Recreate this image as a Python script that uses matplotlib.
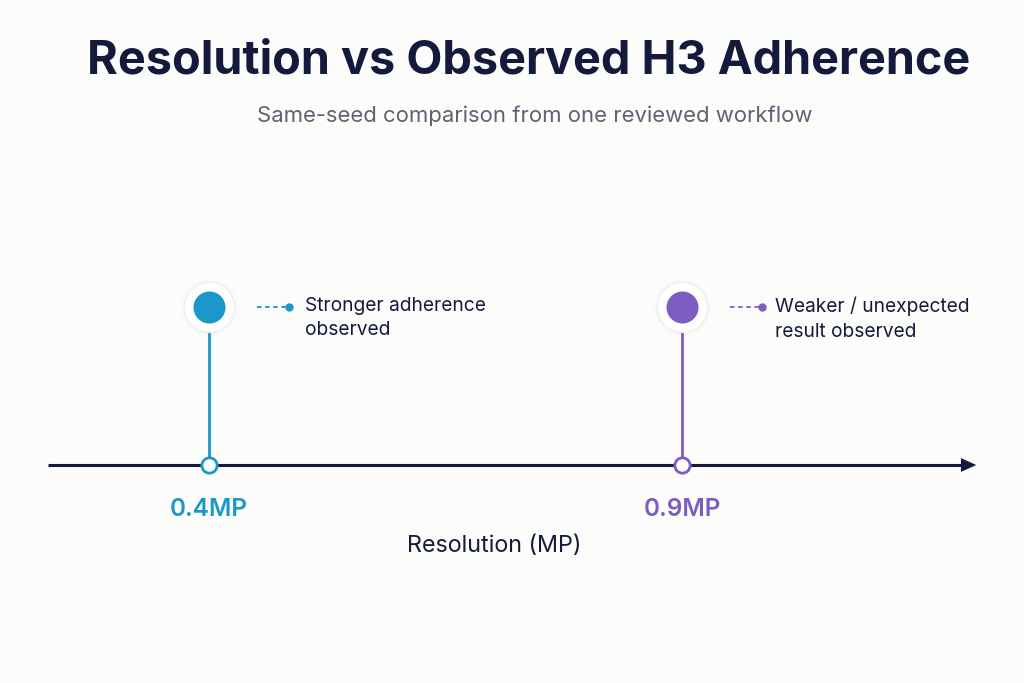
import matplotlib.pyplot as plt

# data
resolutions = [0.4, 0.9]
tick_labels = ["0.4MP", "0.9MP"]
notes = ["Stronger adherence\nobserved", "Weaker / unexpected\nresult observed"]
colors = ["#1b97c9", "#7b5ec0"]

navy = "#141a3c"
bg = "#fcfcfb"
px_per_mp = 946.0  # horizontal scale of the resolution axis

plt.rcParams['font.family'] = ['Inter', 'DejaVu Sans']

fig = plt.figure(figsize=(10.24, 6.83), dpi=100, facecolor=bg)
ax = fig.add_axes([0, 0, 1, 1])
ax.set_facecolor(bg)
# x in MP, y in pixels from top
x0 = resolutions[0] - 209 / px_per_mp
ax.set_xlim(x0, x0 + 1024 / px_per_mp)
ax.set_ylim(683, 0)
ax.axis("off")

def mp(px):
    return x0 + px / px_per_mp

axis_y = 465
top_y = 307

# main axis with arrow
ax.plot([mp(48), mp(966)], [axis_y, axis_y], color=navy, lw=2.2, solid_capstyle="butt", zorder=2)
ax.annotate("", xy=(mp(979), axis_y), xytext=(mp(960), axis_y),
            arrowprops=dict(arrowstyle="-|>,head_length=1.1,head_width=0.5",
                            color=navy, lw=0), zorder=3)

for i, (r, lab, note, c) in enumerate(zip(resolutions, tick_labels, notes, colors)):
    # stem
    ax.plot([r, r], [top_y, axis_y], color=c, lw=2, zorder=3)
    # hollow marker on the axis
    ax.plot(r, axis_y, "o", ms=11, mfc="white", mec=c, mew=2, zorder=5)
    # halo + filled dot at top
    for k, a in [(29, 0.02), (27, 0.03), (25.5, 0.04)]:
        ax.plot(r, top_y, "o", ms=k * 2 * 0.72, mfc="#9aa0b0", mec="none", alpha=a, zorder=3)
    ax.plot(r, top_y, "o", ms=25 * 2 * 0.72, mfc="white", mec="#eeeeee", mew=0.8, zorder=4)
    ax.plot(r, top_y, "o", ms=16 * 2 * 0.72, mfc=c, mec="none", zorder=5)
    # dashed leader
    lx0 = r + 48 / px_per_mp
    lx1 = r + 80 / px_per_mp
    ax.plot([lx0, lx1], [top_y, top_y], color=c, lw=1.3, ls=(0, (2.5, 2)), zorder=3)
    ax.plot(lx1, top_y, "o", ms=5, color=c, zorder=3)
    tx = 96 if i == 0 else 93
    ax.text(r + tx / px_per_mp, 297, note, ha="left", va="top", fontsize=13.8,
            color=navy, linespacing=1.45)
    # tick label
    ax.text(r, 510, lab, ha="center", va="center", fontsize=17.5, fontweight="semibold", color=c)

ax.text(mp(494), 546, "Resolution (MP)", ha="center", va="center", fontsize=16.8, color=navy)

ax.text(mp(529), 62, "Resolution vs Observed H3 Adherence", ha="center", va="center",
        fontsize=33.7, fontweight="bold", color=navy)
ax.text(mp(535), 116, "Same-seed comparison from one reviewed workflow", ha="center",
        va="center", fontsize=15.9, color="#5e6272")

fig.savefig("out.png", dpi=100, facecolor=bg)
